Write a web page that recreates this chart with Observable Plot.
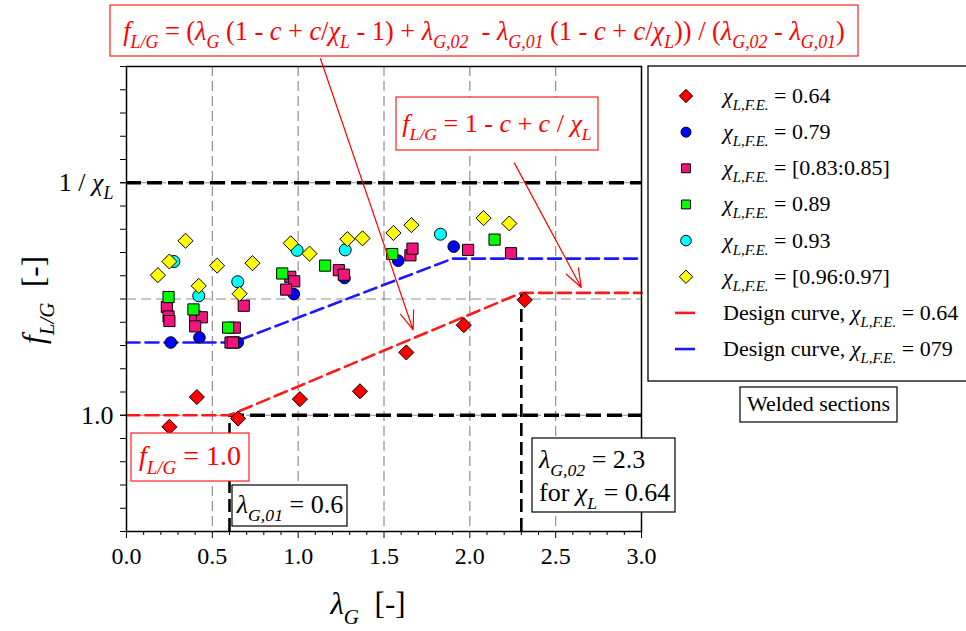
<!DOCTYPE html>
<html><head><meta charset="utf-8">
<script src="https://cdn.jsdelivr.net/npm/d3@7"></script>
<script src="https://cdn.jsdelivr.net/npm/@observablehq/plot@0.6"></script>
<style>html,body{margin:0;padding:0;background:#fff;}
svg text, svg tspan { font-family: "Liberation Serif", "Times New Roman", "DejaVu Serif", serif !important; }</style>
</head><body><div id="chart"></div>
<script>
// ---------------- data ----------------
const lambdaTicks = [0, 0.5, 1.0, 1.5, 2.0, 2.5, 3.0];
const lambdaMinor = [0.1,0.2,0.3,0.4,0.6,0.7,0.8,0.9,1.1,1.2,1.3,1.4,1.6,1.7,1.8,1.9,2.1,2.2,2.3,2.4,2.6,2.7,2.8,2.9];
const fTicks = [1.0, 1.5625];
const fTickLabels = ["1.0", "1 / χ"];
const fDomain = [0.71875, 1.84375];
const fMinorStep = 0.05625;
const fGrid = [1.0, 1.28125, 1.5625];
const lambdaGrid = [0.5, 1.0, 1.5, 2.0, 2.5];

const lambdaG01 = 0.6, lambdaG02 = 2.3, fInvChi = 1.5625, fPlateauRed = 1.296;

const redX = [0.25,0.41,0.65,1.01,1.36,1.63,1.965,2.32];
const redY = [0.972,1.044,0.992,1.039,1.058,1.152,1.218,1.279];
const blueX = [0.258,0.425,0.648,0.975,1.27,1.583,1.906];
const blueY = [1.176,1.188,1.176,1.293,1.332,1.374,1.408];
const pinkX = [0.235,0.245,0.25,0.40,0.439,0.40,0.683,0.631,0.606,0.62,0.954,0.977,0.93,1.237,1.266,1.654,1.666,1.99,2.24];
const pinkY = [1.262,1.239,1.228,1.239,1.237,1.215,1.265,1.212,1.176,1.176,1.335,1.324,1.304,1.351,1.340,1.387,1.403,1.40,1.392];
const greenX = [0.245,0.39,0.592,0.907,1.157,1.548,2.144];
const greenY = [1.286,1.256,1.212,1.343,1.362,1.39,1.425];
const cyanX = [0.276,0.421,0.648,0.994,1.274,1.829];
const cyanY = [1.372,1.289,1.323,1.399,1.40,1.438];
const yellowX = [0.183,0.25,0.344,0.421,0.528,0.659,0.734,0.957,1.066,1.287,1.375,1.555,1.66,2.08,2.23];
const yellowY = [1.339,1.372,1.422,1.313,1.362,1.294,1.368,1.416,1.391,1.426,1.428,1.441,1.46,1.477,1.464];

const designRedX = [0, 0.6, 2.3, 3.0];
const designRedY = [1.0, 1.0, 1.296, 1.296];
const designBlueX = [0, 0.62, 1.9, 3.0];
const designBlueY = [1.176, 1.176, 1.379, 1.379];

const seriesNames = ["0.64","0.79","[0.83:0.85]","0.89","0.93","[0.96:0.97]"];

// annotation arrows (data coordinates)
const arrowData = [
  {x1: 1.13, y1: 1.8626, x2: 1.67, y2: 1.2064},
  {x1: 2.26, y1: 1.61, x2: 2.649, y2: 1.309}
];

// ---------------- styles ----------------
const FONT = "'Liberation Serif','Times New Roman','DejaVu Serif',serif";
const styles = [
  {symbol:"diamond2", fill:"#ff0000", r:6.8},
  {symbol:"circle", fill:"#0000ff", r:5.8},
  {symbol:"square", fill:"#f2137c", r:6.3},
  {symbol:"square", fill:"#00ff00", r:6.3},
  {symbol:"circle", fill:"#00ffff", r:6.0},
  {symbol:"diamond2", fill:"#ffff00", r:6.8}
];
const seriesXY = [[redX,redY],[blueX,blueY],[pinkX,pinkY],[greenX,greenY],[cyanX,cyanY],[yellowX,yellowY]];
const points = seriesXY.flatMap(([xs,ys],k) => xs.map((x,i)=>({x, y: ys[i], s: k})));
const design = [
  ...designRedX.map((x,i)=>({x, y: designRedY[i], c:"red"})),
  ...designBlueX.map((x,i)=>({x, y: designBlueY[i], c:"blue"}))
];
const fMinor = d3.range(0, 21).map(k => fDomain[0] + k * fMinorStep);

const gray = {stroke:"#8f8f8f", strokeOpacity:1, strokeWidth:1.2, strokeDasharray:"10,5"};
const blackDash = {stroke:"black", strokeWidth:3.4, strokeDasharray:"15,6"};

const plot = Plot.plot({
  width: 966, height: 631,
  marginLeft: 126, marginRight: 325, marginTop: 66, marginBottom: 100,
  x: {domain: [0, 3]},
  y: {domain: fDomain},
  style: {fontFamily: FONT, fontSize: "24px", color: "black", background: "white"},
  marks: [
    Plot.gridX(lambdaGrid, gray),
    Plot.gridY(fGrid, gray),
    Plot.ruleY([{y: fInvChi, x1: 0, x2: 3}, {y: 1.0, x1: lambdaG01, x2: 3}], {y:"y", x1:"x1", x2:"x2", ...blackDash}),
    Plot.ruleX([{x: lambdaG01, y1: fDomain[0], y2: 1.0}, {x: lambdaG02, y1: fDomain[0], y2: fPlateauRed}], {x:"x", y1:"y1", y2:"y2", stroke:"black", strokeWidth:2.6, strokeDasharray:"13,6"}),
    Plot.line(design.filter(d=>d.c==="red"), {x:"x", y:"y", stroke:"#ff1a1a", strokeWidth:2.6, strokeDasharray:"13,6"}),
    Plot.line(design.filter(d=>d.c==="blue"), {x:"x", y:"y", stroke:"#1a1aff", strokeWidth:2.6, strokeDasharray:"13,6"}),
    ...styles.map((st,k) => Plot.dot(points.filter(p=>p.s===k), {x:"x", y:"y", symbol: st.symbol, fill: st.fill, stroke:"black", strokeWidth:1, r: st.r})),
    Plot.frame({stroke:"black", strokeWidth:1.5}),
    Plot.axisX(lambdaTicks, {tickSize:7, tickPadding:8, tickFormat: d=>d.toFixed(1), fontSize:24, label:null}),
    Plot.axisX(lambdaMinor, {tickSize:4, tickFormat: ()=>"", label:null}),
    Plot.axisY(fTicks, {tickSize:6, tickPadding:7, tickFormat: d=>fTickLabels[fTicks.indexOf(d)], fontSize:26, label:null}),
    Plot.axisY(fMinor, {tickSize:6, tickFormat: ()=>"", label:null}),
    Plot.arrow(arrowData, {x1:"x1", y1:"y1", x2:"x2", y2:"y2", stroke:"#ff0000", strokeWidth:1.2, headLength:25, headAngle:40})
  ]
});
document.getElementById("chart").appendChild(plot);

// ---------------- rich text helpers ----------------
const svg = d3.select(plot);
function rich(parent, x, y, segs, size, color, anchor) {
  const t = parent.append("text").attr("x", x).attr("y", y)
    .attr("font-size", size).attr("fill", color).attr("font-family", FONT)
    .attr("text-anchor", anchor || "start");
  let shift = 0;
  for (const [txt, f] of segs) {
    const ts = t.append("tspan").text(txt);
    const sub = f && f.includes("s");
    const target = sub ? size * 0.32 : 0;
    if (target !== shift) { ts.attr("dy", target - shift); shift = target; }
    if (sub) ts.attr("font-size", size * 0.68);
    if (f && f.includes("i")) ts.attr("font-style", "italic");
  }
  return t;
}

// y tick label 1 / χ_L
svg.selectAll("text").filter(function(){ return this.textContent === "1 / χ"; }).each(function(){
  const t = d3.select(this); t.text(null);
  t.append("tspan").text("1 / ");
  t.append("tspan").attr("font-style","italic").text("χ");
  t.append("tspan").attr("font-style","italic").attr("font-size", 18).attr("dy", 8).text("L");
});

// axis titles
const ty = svg.append("g").attr("transform", "translate(44,300) rotate(-90)");
rich(ty, 0, 0, [["f","i"],["L/G","si"],["  [-]",""]], 31, "black", "middle");
rich(svg, 368, 614, [["λ","i"],["G","si"],["  [-]",""]], 31, "black", "middle");

// annotation boxes
const ann = svg.append("g");
function box(x, y, w, h, color) {
  ann.append("rect").attr("x", x).attr("y", y).attr("width", w).attr("height", h)
    .attr("fill", "white").attr("stroke", color).attr("stroke-width", 1.2);
}
box(110, 5, 748, 51, "#ff2020");
rich(ann, 484, 40, [["f","i"],["L/G","si"],[" = (",""],["λ","i"],["G","si"],[" (1 - ",""],["c","i"],[" + ",""],["c","i"],["/",""],["χ","i"],["L","si"],[" - 1) + ",""],["λ","i"],["G,02","si"],["  - ",""],["λ","i"],["G,01","si"],[" (1 - ",""],["c","i"],[" + ",""],["c","i"],["/",""],["χ","i"],["L","si"],[")) / (",""],["λ","i"],["G,02","si"],[" - ",""],["λ","i"],["G,01","si"],[")",""]], 26.3, "#ff0000", "middle");

box(396, 97, 202, 53, "#ff2020");
rich(ann, 497, 132, [["f","i"],["L/G","si"],[" = 1 - ",""],["c","i"],[" + ",""],["c","i"],[" / ",""],["χ","i"],["L","si"]], 26, "#ff0000", "middle");

box(131, 433, 118, 48, "#ff2020");
rich(ann, 190, 465, [["f","i"],["L/G","si"],[" = 1.0",""]], 28, "#ff0000", "middle");

box(232, 485, 115, 41, "black");
rich(ann, 290, 513, [["λ","i"],["G,01","si"],[" = 0.6",""]], 26, "black", "middle");

box(532, 438, 143, 74, "black");
rich(ann, 539, 468, [["λ","i"],["G,02","si"],[" = 2.3",""]], 26, "black", "start");
rich(ann, 539, 501, [["for ",""],["χ","i"],["L","si"],[" = 0.64",""]], 26, "black", "start");

// legend
const lg = svg.append("g");
lg.append("rect").attr("x", 648).attr("y", 66).attr("width", 330).attr("height", 315)
  .attr("fill", "white").attr("stroke", "black").attr("stroke-width", 1.3);
const rowY = i => 96 + i * 36.15;
const symMap = {diamond2: d3.symbolDiamond2, circle: d3.symbolCircle, square: d3.symbolSquare};
const legendSize = [6.0, 5.0, 5.0, 5.0, 5.3, 6.0];
styles.forEach((st, i) => {
  lg.append("path").attr("d", d3.symbol(symMap[st.symbol], Math.PI * legendSize[i] ** 2)())
    .attr("transform", `translate(686,${rowY(i)})`)
    .attr("fill", st.fill).attr("stroke", "black").attr("stroke-width", 1);
  rich(lg, 723, rowY(i) + 7, [["χ","i"],["L,F.E.","si"],[" = " + seriesNames[i], ""]], 22, "black", "start");
});
[["#ff1a1a","0.64"],["#1a1aff","079"]].forEach(([c, lab], j) => {
  const y = rowY(6 + j);
  lg.append("line").attr("x1", 675).attr("x2", 695).attr("y1", y).attr("y2", y)
    .attr("stroke", c).attr("stroke-width", 2.6);
  rich(lg, 723, y + 7, [["Design curve, ",""],["χ","i"],["L,F.E.","si"],[" = " + lab, ""]], 22, "black", "start");
});
lg.append("rect").attr("x", 740).attr("y", 387).attr("width", 157).attr("height", 35)
  .attr("fill", "white").attr("stroke", "black").attr("stroke-width", 1.2);
rich(lg, 818.5, 411, [["Welded sections",""]], 22, "black", "middle");
</script>
</body></html>
